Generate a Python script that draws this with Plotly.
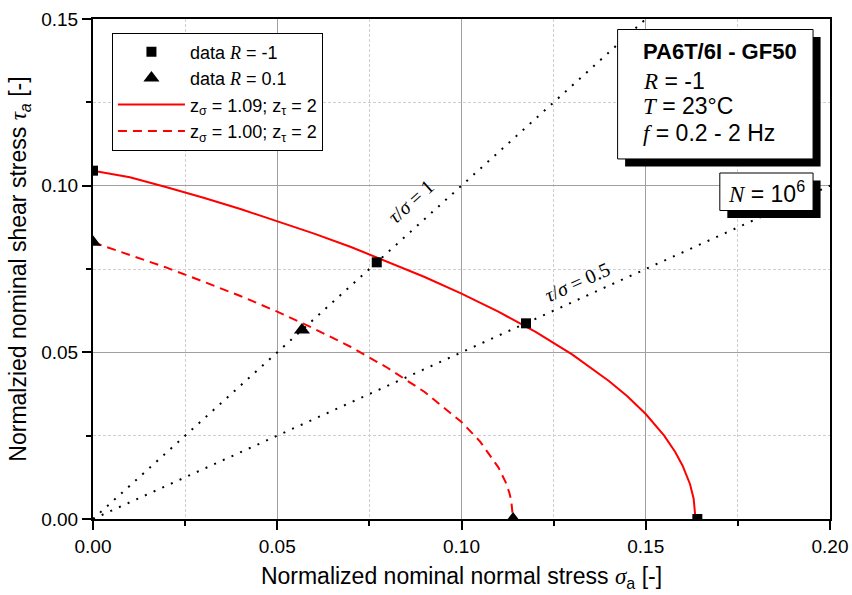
import plotly.graph_objects as go

# ---------------- data ----------------
sq_sigma = [0.0, 0.077, 0.1175, 0.164]          # data R = -1
sq_tau = [0.1045, 0.077, 0.0587, 0.0]

tri_sigma = [0.0, 0.0567, 0.1140]               # data R = 0.1
tri_tau = [0.0830, 0.0567, 0.0]

solid_sigma = [0.0, 0.01, 0.02, 0.03, 0.04, 0.05, 0.06, 0.07, 0.08, 0.09, 0.10, 0.11, 0.12,
               0.13, 0.14, 0.145, 0.15, 0.155, 0.158, 0.16, 0.162, 0.163, 0.1635]
solid_tau = [0.1045, 0.1025, 0.0995, 0.0964, 0.0930, 0.0894, 0.0856, 0.0816, 0.0772, 0.0726,
             0.0676, 0.0622, 0.0562, 0.0494, 0.0414, 0.0368, 0.0315, 0.0250, 0.0201, 0.0160,
             0.0105, 0.0061, 0.0]

dash_sigma = [0.0, 0.01, 0.02, 0.03, 0.04, 0.05, 0.06, 0.07, 0.08, 0.09, 0.10, 0.105, 0.11,
              0.112, 0.113, 0.1135, 0.114]
dash_tau = [0.0830, 0.0793, 0.0754, 0.0712, 0.0669, 0.0622, 0.0571, 0.0516, 0.0453, 0.0381,
            0.0291, 0.0233, 0.0155, 0.0110, 0.0078, 0.0055, 0.0]

ratio1_sigma = [0.0, 0.15]
ratio1_tau = [0.0, 0.15]
ratio05_sigma = [0.0, 0.20]
ratio05_tau = [0.0, 0.10]

x_ticks = [0.0, 0.05, 0.10, 0.15, 0.20]
y_ticks = [0.0, 0.05, 0.10, 0.15]

SANS = "Arial, Liberation Sans, sans-serif"
SERIF = "Liberation Serif, Times New Roman, serif"


def ser(t):
    return f"<span style=\"font-family:'Liberation Serif'\"><i>{t}</i></span>"


fig = go.Figure()

# reference lines tau/sigma
fig.add_trace(go.Scatter(x=ratio1_sigma, y=ratio1_tau, mode="lines", showlegend=False,
                         line=dict(color="black", width=2, dash="2px,7.5px"), hoverinfo="skip"))
fig.add_trace(go.Scatter(x=ratio05_sigma, y=ratio05_tau, mode="lines", showlegend=False,
                         line=dict(color="black", width=2, dash="2px,7.5px"), hoverinfo="skip"))

# curves
fig.add_trace(go.Scatter(x=solid_sigma, y=solid_tau, mode="lines",
                         name="z<sub>σ</sub> = 1.09; z<sub>τ</sub> = 2", legendrank=3,
                         line=dict(color="#ff0000", width=2)))
fig.add_trace(go.Scatter(x=dash_sigma, y=dash_tau, mode="lines",
                         name="z<sub>σ</sub> = 1.00; z<sub>τ</sub> = 2", legendrank=4,
                         line=dict(color="#ff0000", width=2, dash="9px,6px")))

# data
fig.add_trace(go.Scatter(x=sq_sigma, y=sq_tau, mode="markers", name="data " + ser("R") + " = -1",
                         legendrank=1, marker=dict(symbol="square", size=10, color="black")))
fig.add_trace(go.Scatter(x=tri_sigma, y=tri_tau, mode="markers", name="data " + ser("R") + " = 0.1",
                         legendrank=2, marker=dict(symbol="triangle-up", size=14, color="black")))

axis_common = dict(
    ticks="outside", ticklen=9, tickwidth=1.5, tickcolor="black",
    showline=True, linecolor="black", linewidth=2, mirror=True,
    showgrid=True, gridcolor="#a0a0a0", gridwidth=1, zeroline=False,
    tickfont=dict(family=SANS, size=19, color="black"),
    tickformat=".2f",
)

fig.update_xaxes(range=[0, 0.2], tickvals=x_ticks, **axis_common,
                 minor=dict(dtick=0.025, ticks="outside", ticklen=5, tickcolor="black",
                            showgrid=True, gridcolor="#cfcfcf", griddash="3px,2px", gridwidth=1),
                 title=dict(text="Normalized nominal normal stress " + ser("σ") + "<sub>a</sub> [-]",
                            font=dict(family=SANS, size=23, color="black"), standoff=12))
fig.update_yaxes(range=[0, 0.15], tickvals=y_ticks, **axis_common,
                 minor=dict(dtick=0.025, ticks="outside", ticklen=5, tickcolor="black",
                            showgrid=True, gridcolor="#cfcfcf", griddash="3px,2px", gridwidth=1),
                 title=dict(text="Normalzied nominal shear stress " + ser("τ") + "<sub><i>a</i></sub> [-]",
                            font=dict(family=SANS, size=23, color="black"), standoff=8))

# info boxes with drop shadows (paper coordinates)
shapes = [
    dict(type="rect", xref="paper", yref="paper", x0=0.7220, x1=0.9872, y0=0.7050, y1=0.9640,
         fillcolor="black", line=dict(width=0), layer="above"),
    dict(type="rect", xref="paper", yref="paper", x0=0.7118, x1=0.9770, y0=0.7201, y1=0.9790,
         fillcolor="white", line=dict(color="black", width=1), layer="above"),
    dict(type="rect", xref="paper", yref="paper", x0=0.8607, x1=0.9872, y0=0.6020, y1=0.6770,
         fillcolor="black", line=dict(width=0), layer="above"),
    dict(type="rect", xref="paper", yref="paper", x0=0.8505, x1=0.9770, y0=0.6170, y1=0.6920,
         fillcolor="white", line=dict(color="black", width=1), layer="above"),
]

ann_font = dict(family=SANS, size=23, color="black")
annotations = [
    dict(xref="paper", yref="paper", x=0.7435, y=0.9355, xanchor="left", yanchor="middle",
         text="<b>PA6T/6I - GF50</b>", showarrow=False, font=dict(family=SANS, size=22, color="black")),
    dict(xref="paper", yref="paper", x=0.7435, y=0.8755, xanchor="left", yanchor="middle",
         text=ser("R") + " = -1", showarrow=False, font=ann_font),
    dict(xref="paper", yref="paper", x=0.7435, y=0.8254, xanchor="left", yanchor="middle",
         text=ser("T") + " = 23°C", showarrow=False, font=ann_font),
    dict(xref="paper", yref="paper", x=0.7435, y=0.7722, xanchor="left", yanchor="middle",
         text=ser("f") + " = 0.2 - 2 Hz", showarrow=False, font=ann_font),
    dict(xref="paper", yref="paper", x=0.9140, y=0.6547, xanchor="center", yanchor="middle",
         text=ser("N") + " = 10<sup>6</sup>", showarrow=False, font=ann_font),
    dict(x=0.0864, y=0.0953, text="<i>τ</i>/<i>σ</i> = 1", showarrow=False, textangle=-42,
         font=dict(family=SERIF, size=20, color="black")),
    dict(x=0.1314, y=0.0710, text="<i>τ</i>/<i>σ</i> = 0.5", showarrow=False, textangle=-24.3,
         font=dict(family=SERIF, size=20, color="black")),
]

fig.update_layout(
    width=852, height=595,
    margin=dict(l=93, r=22, t=19, b=76, autoexpand=False),
    paper_bgcolor="white", plot_bgcolor="white",
    font=dict(family=SANS, size=18, color="black"),
    showlegend=True,
    legend=dict(x=0.0257, y=0.973, xanchor="left", yanchor="top",
                bgcolor="white", bordercolor="black", borderwidth=1,
                font=dict(family=SANS, size=18, color="black"),
                itemwidth=67, tracegroupgap=0),
    shapes=shapes, annotations=annotations,
)

fig.write_html("out.html")
